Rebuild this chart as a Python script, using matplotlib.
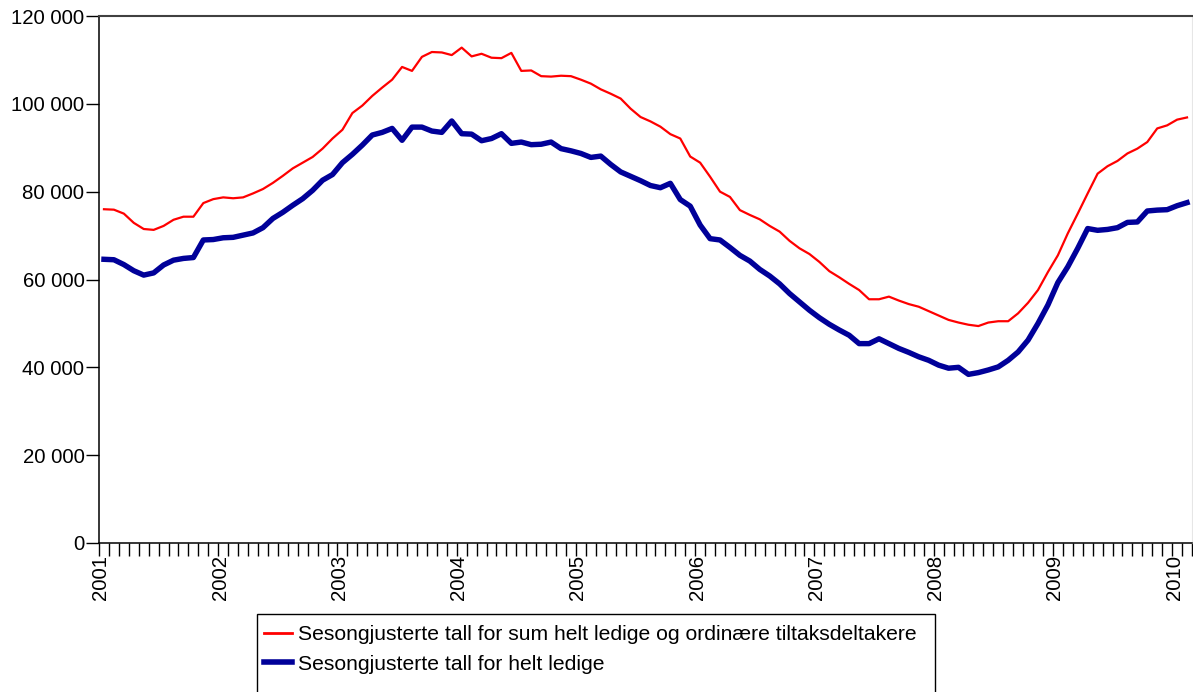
import numpy as np
import matplotlib
matplotlib.use("Agg")
import matplotlib.pyplot as plt
from matplotlib.patches import Rectangle
from matplotlib.ticker import FuncFormatter

plt.rcParams["font.family"] = ["Liberation Sans", "DejaVu Sans"]

# --- data: monthly, Jan 2001 - Feb 2010 (thousand persons) ---
years = [str(y) for y in range(2001, 2011)]

total = [76.0, 75.9, 75.0, 72.9, 71.5, 71.3, 72.2, 73.6, 74.3, 74.3,
         77.4, 78.3, 78.7, 78.5, 78.7, 79.6, 80.6, 82.0, 83.6, 85.3,
         86.6, 87.9, 89.8, 92.1, 94.1, 97.9, 99.6, 101.8, 103.7, 105.5,
         108.4, 107.5, 110.7, 111.8, 111.7, 111.1, 112.8, 110.8, 111.4, 110.5,
         110.4, 111.6, 107.5, 107.6, 106.3, 106.2, 106.4, 106.3, 105.5, 104.6,
         103.3, 102.3, 101.2, 98.9, 97.0, 96.0, 94.8, 93.1, 92.1, 88.0,
         86.6, 83.4, 80.0, 78.8, 75.8, 74.7, 73.7, 72.2, 70.9, 68.8,
         67.1, 65.8, 64.0, 61.9, 60.5, 59.0, 57.6, 55.5, 55.5, 56.1,
         55.2, 54.4, 53.8, 52.8, 51.8, 50.8, 50.2, 49.7, 49.4, 50.2,
         50.5, 50.5, 52.3, 54.7, 57.6, 61.7, 65.5, 70.5, 75.0, 79.6,
         84.1, 85.8, 87.0, 88.7, 89.8, 91.3, 94.4, 95.1, 96.4, 96.9]

helt_ledige = [64.6, 64.5, 63.4, 62.0, 61.0, 61.5, 63.3, 64.4, 64.8, 65.0,
               69.0, 69.1, 69.5, 69.6, 70.1, 70.6, 71.8, 73.9, 75.3, 76.9,
               78.4, 80.3, 82.6, 83.9, 86.6, 88.5, 90.6, 92.9, 93.5, 94.4,
               91.7, 94.7, 94.7, 93.8, 93.5, 96.1, 93.2, 93.1, 91.6, 92.1,
               93.2, 91.0, 91.3, 90.7, 90.8, 91.3, 89.8, 89.3, 88.7, 87.8,
               88.1, 86.2, 84.5, 83.5, 82.5, 81.4, 80.9, 81.9, 78.2, 76.7,
               72.4, 69.3, 69.0, 67.3, 65.5, 64.2, 62.3, 60.8, 59.0, 56.8,
               54.9, 53.0, 51.3, 49.8, 48.5, 47.3, 45.4, 45.4, 46.5, 45.4,
               44.3, 43.4, 42.4, 41.6, 40.5, 39.8, 40.0, 38.4, 38.8, 39.4,
               40.1, 41.6, 43.5, 46.2, 50.0, 54.2, 59.3, 62.9, 67.1, 71.6,
               71.2, 71.4, 71.8, 73.0, 73.1, 75.6, 75.8, 75.9, 76.8, 77.5]

label_total = "Sesongjusterte tall for sum helt ledige og ordinære tiltaksdeltakere"
label_helt = "Sesongjusterte tall for helt ledige"

total = np.array(total) * 1000
helt_ledige = np.array(helt_ledige) * 1000
x = np.arange(len(total))

fig = plt.figure(figsize=(11.93, 6.92), dpi=100)
ax = fig.add_axes([99 / 1193, 1 - 543 / 692, 1093 / 1193, 527 / 692])

l1, = ax.plot(x, total, color="#ff0000", lw=1.6, label=label_total)
l2, = ax.plot(x, helt_ledige, color="#000099", lw=3.9, label=label_helt)

ax.set_xlim(-0.5, len(total) - 0.5)
ax.set_ylim(0, 120000)
ax.set_yticks(np.arange(0, 120001, 20000))
ax.yaxis.set_major_formatter(FuncFormatter(lambda v, p: f"{v:,.0f}".replace(",", " ")))

# month boundaries as ticks, year labels at January
ax.set_xticks(np.arange(len(total) + 1) - 0.5, minor=True)
ax.set_xticks(np.arange(len(years)) * 12 - 0.5 + 0.2)
ax.set_xticklabels(years, rotation=90)
ax.tick_params(axis="x", which="major", length=0, pad=8.3, labelsize=14.7)
ax.tick_params(axis="x", which="minor", length=9, width=1, direction="out")
ax.tick_params(axis="y", length=9.5, width=1, pad=1, labelsize=14.7)

for s in ["left", "bottom"]:
    ax.spines[s].set_color("black")
    ax.spines[s].set_linewidth(1.1)
ax.spines["top"].set_color("#404040")
ax.spines["top"].set_linewidth(1.5)
ax.spines["right"].set_color("#e6e6e6")

# legend with box running past the bottom of the figure
fig.patches.append(Rectangle((257 / 1193, -0.05), (935 - 257) / 1193, (692 - 614) / 692 + 0.05,
                             transform=fig.transFigure, fill=False, edgecolor="black", lw=1.0))
fig.legend(handles=[l1, l2], loc="upper left", bbox_to_anchor=(260 / 1193, 1 - 621 / 692),
           frameon=False, fontsize=15.2, handlelength=1.3, handletextpad=0.3,
           labelspacing=0.5, borderaxespad=0, borderpad=0.2)
for h in fig.legends[0].legend_handles:
    h.set_linewidth(4 if h.get_color() == "#000099" else 2)

fig.savefig("out.png", dpi=100)
